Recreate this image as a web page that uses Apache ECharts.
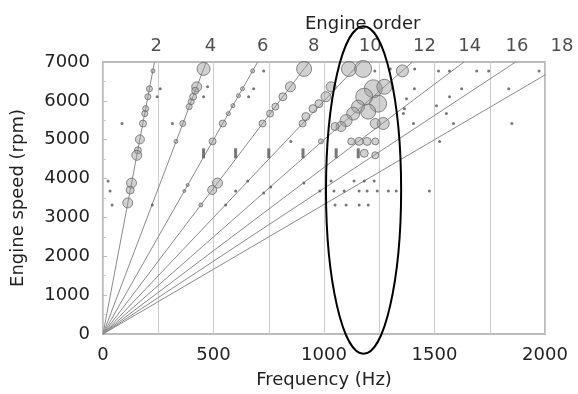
<!DOCTYPE html>
<html>
<head>
<meta charset="utf-8">
<script src="https://cdn.jsdelivr.net/npm/echarts@6/dist/echarts.min.js"></script>
<style>
html, body { margin: 0; padding: 0; background: #fff; }
#chart { width: 578px; height: 394px; }
</style>
</head>
<body>
<div id="chart"></div>
<script>
// engine orders drawn as rays from the origin
const orders = [2, 4, 6, 8, 10, 12, 14, 16, 18];
const orderLineEndHz = [233, 467, 700, 933, 1167, 1400, 1633, 1867, 2064];
const orderLineEndRpm = [7000, 7000, 7000, 7000, 7000, 7000, 7000, 7000, 6880];
const orderLabelHz = [241, 486, 723, 954, 1209, 1455, 1659, 1873, 2077];

// [Hz, rpm, diameter] gray circles
const bubbles = [
    // order 2
    [226, 6771, 4], [210, 6311, 6], [203, 6106, 6], [193, 5800, 6], [189, 5672, 6], [181, 5417, 7],
    [167, 5008, 9], [158, 4727, 7], [153, 4599, 10], [129, 3884, 10], [123, 3705, 8], [112, 3373, 10],
    // order 4
    [455, 6822, 13], [424, 6362, 10], [417, 6260, 7], [408, 6106, 7], [399, 5979, 6], [390, 5851, 6],
    [361, 5417, 6], [330, 4957, 4],
    // order 6
    [677, 6771, 4], [631, 6311, 4], [613, 6132, 4], [588, 5877, 4], [567, 5672, 4], [542, 5417, 7],
    [496, 4957, 7], [383, 3833, 3], [368, 3679, 3],
    // order 8
    [910, 6822, 15], [848, 6362, 10], [814, 6106, 8], [780, 5851, 7], [756, 5672, 7], [722, 5417, 7],
    [518, 3884, 10], [494, 3705, 9], [443, 3322, 4],
    // order 10 and the resonance around 1200 Hz
    [1032, 6362, 10], [1009, 6106, 10], [977, 5928, 8], [950, 5800, 8], [918, 5596, 8], [903, 5417, 7],
    [1113, 6822, 15], [1177, 6822, 17], [1355, 6771, 12],
    [1223, 6311, 18], [1273, 6362, 15], [1182, 6106, 17], [1245, 5928, 17], [1154, 5851, 13],
    [1132, 5672, 13], [1100, 5493, 12], [1200, 5723, 15], [1268, 5417, 12], [1232, 5417, 10],
    [1077, 5340, 10], [1050, 5340, 8],
    [1123, 4957, 7], [1159, 4957, 8], [1195, 4957, 8], [1232, 4957, 7],
    [1182, 4650, 8], [1232, 4599, 7],
    [986, 4957, 5]
];

// [Hz, rpm] small dark dots
const dots = [
    [32, 3679], [41, 3322], [86, 5417], [23, 3935],
    [473, 6362], [455, 6106], [259, 6311], [245, 6106], [314, 5417],
    [727, 6771], [682, 6311], [659, 6106],
    [223, 3322], [555, 3322], [727, 3628], [759, 3781], [655, 3935], [909, 3884], [981, 3679],
    [600, 3679], [850, 4957],
    [1032, 3935], [1136, 3935], [1182, 3935], [1227, 3935],
    [1045, 3679], [1091, 3679], [1159, 3679], [1195, 3679], [1241, 3679], [1291, 3679], [1327, 3679], [1477, 3679],
    [1050, 3322], [1100, 3322], [1159, 3322], [1200, 3322],
    [1518, 6771], [1568, 6771], [1691, 6771], [1745, 6771], [1973, 6771],
    [1409, 6311], [1623, 6311], [1836, 6311], [1373, 6055], [1568, 6106], [1509, 5877],
    [1364, 5800], [1359, 5672], [1554, 5672], [1405, 5417], [1586, 5417], [1850, 5417], [1523, 4957],
    [1300, 6822], [1410, 6822], [1230, 6771]
];

// [Hz, rpm] short vertical marks
const ticks = [[455, 4650], [600, 4650], [750, 4650], [905, 4650], [1055, 4650], [1155, 4650]];

const xTickStep = 500;
const yTickStep = 1000;

// highlighted region, centre and radii in Hz / rpm
const ellipseCenter = [1179, 3705];
const ellipseRadius = [170, 4216];

const font = 'DejaVu Sans';
const textColor = '#222';

const chart = echarts.init(document.getElementById('chart'));

const lineSeries = orders.map((o, i) => ({
    type: 'line',
    data: [[0, 0], [orderLineEndHz[i], orderLineEndRpm[i]]],
    symbol: 'none',
    clip: false,
    silent: true,
    z: 1,
    lineStyle: { color: '#8a8a8a', width: 1 }
}));

const option = {
    animation: false,
    title: {
        text: 'Engine order',
        left: 300,
        top: 10,
        textStyle: { fontFamily: font, fontSize: 18, fontWeight: 'normal', color: textColor }
    },
    grid: {
        left: 103, right: 33, top: 62, bottom: 57,
        show: true, borderColor: '#bbb', borderWidth: 2
    },
    xAxis: {
        type: 'value',
        min: 0,
        max: 2000,
        interval: xTickStep,
        axisLine: { show: false },
        axisTick: { show: false },
        axisLabel: { fontFamily: font, fontSize: 18, color: textColor, margin: 12, formatter: v => String(v) },
        splitLine: { show: true, lineStyle: { color: '#ccc', width: 1 } },
        minorTick: { show: false, splitNumber: 2 },
        minorSplitLine: { show: true, lineStyle: { color: '#ccc', width: 1 } },
        name: 'Frequency (Hz)',
        nameLocation: 'middle',
        nameGap: 37,
        nameTextStyle: { fontFamily: font, fontSize: 18, color: textColor }
    },
    yAxis: {
        type: 'value',
        min: 0,
        max: 7000,
        interval: yTickStep,
        axisLine: { show: false },
        axisTick: { show: true, inside: true, length: 4, lineStyle: { color: '#bbb' } },
        minorTick: { show: true, splitNumber: 2, length: 3, lineStyle: { color: '#ccc' } },
        axisLabel: { fontFamily: font, fontSize: 18, color: textColor, margin: 13, formatter: v => String(v) },
        splitLine: { show: false },
        name: 'Engine speed (rpm)',
        nameLocation: 'middle',
        nameGap: 76,
        nameTextStyle: { fontFamily: font, fontSize: 18, color: textColor }
    },
    series: [
        ...lineSeries,
        {
            type: 'scatter',
            data: bubbles,
            z: 3,
            symbolSize: v => v[2],
            itemStyle: { color: 'rgba(150,150,150,0.55)', borderColor: '#6a6a6a', borderWidth: 1 }
        },
        {
            type: 'scatter',
            data: dots,
            z: 4,
            symbolSize: 3,
            itemStyle: { color: '#555' }
        },
        {
            type: 'scatter',
            data: ticks,
            z: 4,
            symbol: 'rect',
            symbolSize: [3, 10],
            itemStyle: { color: '#555' }
        },
        {
            type: 'scatter',
            data: orderLabelHz.map((h, i) => [h, 7000, orders[i]]),
            symbolSize: 0,
            clip: false,
            silent: true,
            label: {
                show: true,
                position: 'top',
                distance: 7,
                formatter: p => p.data[2],
                fontFamily: font,
                fontSize: 18,
                color: textColor
            }
        },
        {
            type: 'custom',
            clip: false,
            silent: true,
            z: 10,
            data: [[ellipseCenter[0], ellipseCenter[1], ellipseRadius[0], ellipseRadius[1]]],
            renderItem: (params, api) => {
                const c = api.coord([api.value(0), api.value(1)]);
                const e = api.coord([api.value(0) + api.value(2), api.value(1) + api.value(3)]);
                return {
                    type: 'ellipse',
                    shape: { cx: c[0], cy: c[1], rx: e[0] - c[0], ry: c[1] - e[1] },
                    style: { fill: 'none', stroke: '#000', lineWidth: 2 }
                };
            }
        }
    ]
};

chart.setOption(option);
</script>
</body>
</html>
